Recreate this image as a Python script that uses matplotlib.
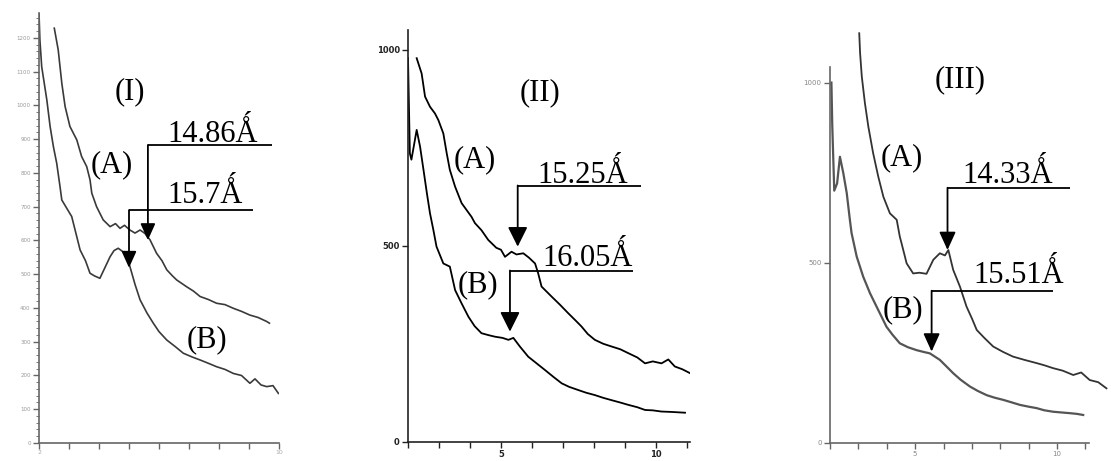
import matplotlib
matplotlib.use('Agg')
import matplotlib.pyplot as plt
from matplotlib.ticker import MultipleLocator, FixedLocator

W, H, DPI = 1111, 461, 100
SERIF = ['Liberation Serif', 'DejaVu Serif']

# ---- panel I ----
p1_a_x = [2.51, 2.64, 2.76, 2.87, 3.03, 3.26, 3.42, 3.59, 3.70, 3.76, 3.92, 4.14, 4.37,
          4.55, 4.70, 4.85, 5.03, 5.20, 5.37, 5.53, 5.70, 5.92, 6.10, 6.26, 6.45, 6.59,
          6.92, 7.15, 7.37, 7.65, 7.92, 8.20, 8.48, 8.75, 9.03, 9.30, 9.59, 9.68]
p1_a_y = [1229, 1165, 1066, 997, 938, 898, 849, 819, 780, 740, 700, 661, 641,
          650, 636, 645, 631, 622, 631, 621, 602, 562, 540, 513, 495, 483,
          463, 450, 434, 425, 414, 410, 399, 390, 379, 372, 360, 355]
p1_b_x = [2.00, 2.03, 2.09, 2.26, 2.37, 2.48, 2.59, 2.70, 2.76, 3.09, 3.37, 3.55, 3.70,
          3.85, 4.03, 4.20, 4.37, 4.50, 4.64, 4.87, 5.03, 5.20, 5.37, 5.60, 5.81, 6.00,
          6.26, 6.55, 6.81, 7.10, 7.37, 7.65, 7.92, 8.20, 8.48, 8.75, 9.03, 9.20,
          9.40, 9.59, 9.80, 9.98]
p1_b_y = [1273, 1194, 1115, 1017, 938, 878, 829, 760, 720, 671, 572, 540, 503,
          495, 488, 520, 552, 570, 577, 562, 523, 470, 424, 385, 355, 330,
          305, 285, 266, 255, 246, 236, 226, 218, 206, 200, 177, 190,
          172, 167, 170, 147]

# ---- panel II ----
p2_a_x = [2.28, 2.44, 2.55, 2.71, 2.87, 2.98, 3.14, 3.25, 3.35, 3.52, 3.73, 4.05, 4.16,
          4.37, 4.59, 4.85, 5.00, 5.13, 5.34, 5.50, 5.72, 5.90, 6.10, 6.20, 6.31, 6.64,
          6.90, 7.17, 7.40, 7.60, 7.80, 8.03, 8.30, 8.57, 8.85, 9.11, 9.40, 9.65,
          9.90, 10.18, 10.40, 10.61, 10.85, 11.10]
p2_a_y = [979, 940, 881, 855, 838, 821, 787, 736, 694, 651, 609, 574, 558,
          540, 515, 495, 490, 472, 485, 478, 481, 470, 455, 430, 396, 370,
          350, 328, 310, 294, 275, 260, 250, 243, 236, 226, 215, 200,
          205, 200, 210, 192, 185, 175]
p2_b_x = [2.00, 2.06, 2.11, 2.20, 2.28, 2.39, 2.50, 2.61, 2.71, 2.82, 2.92, 3.14, 3.35,
          3.52, 3.73, 3.95, 4.15, 4.37, 4.60, 4.81, 5.05, 5.24, 5.40, 5.61, 5.88,
          6.15, 6.42, 6.70, 6.96, 7.20, 7.49, 7.75, 8.03, 8.30, 8.57, 8.85, 9.11,
          9.40, 9.65, 9.90, 10.18, 10.50, 10.94]
p2_b_y = [979, 736, 720, 760, 796, 753, 694, 634, 583, 540, 498, 455, 447,
          387, 353, 319, 295, 277, 272, 268, 265, 260, 265, 243, 217,
          200, 183, 165, 149, 140, 132, 125, 119, 112, 106, 100, 94,
          88, 81, 80, 77, 76, 74]

# ---- panel III ----
p3_a_x = [3.03, 3.06, 3.12, 3.23, 3.35, 3.52, 3.70, 3.88, 4.11, 4.35, 4.46, 4.52, 4.70,
          4.93, 5.15, 5.40, 5.64, 5.87, 6.05, 6.17, 6.34, 6.58, 6.81, 7.00, 7.17,
          7.45, 7.75, 8.10, 8.45, 8.85, 9.28, 9.55, 9.86, 10.20, 10.57, 10.85,
          11.15, 11.45, 11.74]
p3_a_y = [1137, 1082, 1017, 943, 878, 804, 739, 683, 637, 619, 572, 554, 498,
          470, 472, 469, 508, 526, 520, 535, 480, 433, 378, 345, 313,
          290, 267, 252, 239, 230, 221, 215, 207, 200, 188, 195,
          174, 168, 151]
p3_b_x = [2.05, 2.08, 2.15, 2.25, 2.35, 2.47, 2.59, 2.70, 2.76, 2.94, 3.17, 3.41, 3.64,
          3.99, 4.20, 4.46, 4.75, 5.05, 5.30, 5.52, 5.87, 6.10, 6.34, 6.60, 6.93,
          7.20, 7.52, 7.80, 8.10, 8.40, 8.69, 9.00, 9.28, 9.55, 9.86, 10.15,
          10.45, 10.70, 10.92]
p3_b_y = [1000, 880, 700, 720, 794, 748, 693, 619, 582, 517, 461, 415, 378,
          322, 300, 276, 265, 257, 252, 248, 230, 212, 193, 175, 156,
          144, 132, 125, 119, 112, 105, 100, 96, 90, 86, 84,
          82, 80, 77]


def make_axes(fig, left, right, bottom, top):
  return fig.add_axes([left / W, (H - bottom) / H, (right - left) / W, (bottom - top) / H])


def style_axes(ax, color, xmax_spine, ymax_spine):
  for s in ('top', 'right'):
    ax.spines[s].set_visible(False)
  for s in ('left', 'bottom'):
    ax.spines[s].set_color(color)
    ax.spines[s].set_linewidth(1.2)
  ax.spines['bottom'].set_bounds(2, xmax_spine)
  ax.spines['left'].set_bounds(0, ymax_spine)
  ax.tick_params(colors=color, length=4, width=1.0, labelsize=5, pad=2)
  ax.patch.set_visible(False)


def label_peak(ax, text, tx, ty, x0, x1, yline, ytip, hl, hw):
  ax.text(tx, ty, text, family=SERIF, fontsize=22, ha='left', va='baseline')
  ax.plot([x0, x1], [yline, yline], color='black', lw=1.3, solid_capstyle='butt')
  ax.annotate('', xy=(x0, ytip), xytext=(x0, yline),
              arrowprops=dict(arrowstyle='-|>,head_length=%.2f,head_width=%.2f' % (hl, hw),
                              color='black', lw=1.3, shrinkA=0, shrinkB=0, mutation_scale=10))


fig = plt.figure(figsize=(W / DPI, H / DPI), dpi=DPI)

# Panel I
ax1 = make_axes(fig, 39, 279, 443, 13)
ax1.plot(p1_a_x, p1_a_y, color='#3a3a3a', lw=1.2)
ax1.plot(p1_b_x, p1_b_y, color='#3a3a3a', lw=1.2)
ax1.set_xlim(2, 10)
ax1.set_ylim(0, 1274)
style_axes(ax1, '#666666', 10, 1274)
ax1.xaxis.set_major_locator(MultipleLocator(1))
ax1.set_xticklabels([])
ax1.yaxis.set_major_locator(MultipleLocator(100))
ax1.yaxis.set_minor_locator(MultipleLocator(20))
ax1.tick_params(axis='y', which='minor', length=2.5, colors='#666666')
ax1.tick_params(axis='y', labelsize=4, labelcolor='#999999')
ax1.text(2, -22, '2', fontsize=4.5, color='#aaaaaa', ha='center', va='top')
ax1.text(10, -22, '10', fontsize=4.5, color='#aaaaaa', ha='center', va='top')
ax1.text(5.03, 1040, '(I)', family=SERIF, fontsize=22, ha='center', va='center')
ax1.text(4.43, 824, '(A)', family=SERIF, fontsize=22, ha='center', va='center')
ax1.text(7.6, 305, '(B)', family=SERIF, fontsize=22, ha='center', va='center')
label_peak(ax1, '14.86Ǻ', 6.27, 893, 5.63, 9.77, 883, 601, 1.0, 0.45)
label_peak(ax1, '15.7Ǻ', 6.27, 711, 5.0, 9.13, 690, 519, 1.0, 0.45)

# Panel II
ax2 = make_axes(fig, 408, 690, 441.7, 30)
ax2.plot(p2_a_x, p2_a_y, color='black', lw=1.3)
ax2.plot(p2_b_x, p2_b_y, color='black', lw=1.3)
ax2.set_xlim(2, 11.1)
ax2.set_ylim(0, 1051)
style_axes(ax2, '#222222', 11.1, 1051)
ax2.xaxis.set_major_locator(FixedLocator(range(2, 12)))
ax2.set_xticklabels(['' if v not in (5, 10) else str(v) for v in range(2, 12)])
ax2.set_yticks([0, 500, 1000])
ax2.tick_params(labelsize=6)
for lab in ax2.get_xticklabels() + ax2.get_yticklabels():
  lab.set_fontweight('bold')
ax2.text(6.26, 890, '(II)', family=SERIF, fontsize=22, ha='center', va='center')
ax2.text(4.16, 719, '(A)', family=SERIF, fontsize=22, ha='center', va='center')
ax2.text(4.26, 400, '(B)', family=SERIF, fontsize=22, ha='center', va='center')
label_peak(ax2, '15.25Ǻ', 6.19, 660, 5.54, 9.52, 654, 498, 1.2, 0.6)
label_peak(ax2, '16.05Ǻ', 6.35, 449, 5.29, 9.26, 437, 281, 1.2, 0.6)

# Panel III
ax3 = make_axes(fig, 830, 1111, 442.7, 30)
ax3.plot(p3_a_x, p3_a_y, color='#333333', lw=1.3)
ax3.plot(p3_b_x, p3_b_y, color='#555555', lw=1.6)
ax3.set_xlim(2, 11.9)
ax3.set_ylim(0, 1146)
style_axes(ax3, '#666666', 11.12, 1044)
ax3.xaxis.set_major_locator(FixedLocator(range(2, 12)))
ax3.set_xticklabels(['' if v not in (5, 10) else str(v) for v in range(2, 12)])
ax3.set_yticks([0, 500, 1000])
ax3.tick_params(labelsize=5, labelcolor='#888888')
ax3.text(6.58, 1008, '(III)', family=SERIF, fontsize=22, ha='center', va='center')
ax3.text(4.52, 790, '(A)', family=SERIF, fontsize=22, ha='center', va='center')
ax3.text(4.57, 369, '(B)', family=SERIF, fontsize=22, ha='center', va='center')
label_peak(ax3, '14.33Ǻ', 6.68, 721, 6.14, 10.45, 708, 535, 1.1, 0.5)
label_peak(ax3, '15.51Ǻ', 7.04, 444, 5.58, 9.86, 422, 253, 1.1, 0.5)

fig.savefig('out.png', dpi=DPI)
